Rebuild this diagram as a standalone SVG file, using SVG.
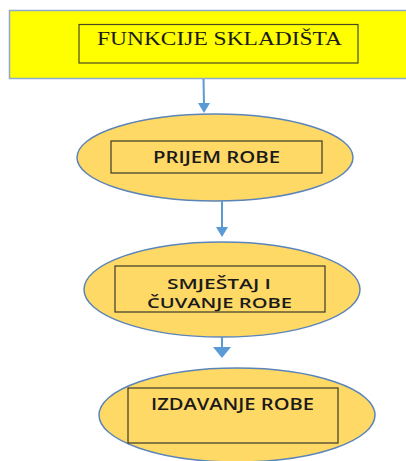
<svg xmlns="http://www.w3.org/2000/svg" width="406" height="461" viewBox="0 0 406 461">
<defs>
<style>
.ell{fill:#FFD966;stroke:#5B84B8;stroke-width:1.5}
.box{fill:none;stroke:#3a3a2a;stroke-width:1.2}
.lbl{font-family:"Open Sans","Liberation Sans",sans-serif;font-size:16px;fill:#1a1a1a;font-weight:600}
.conn{stroke:#5B9BD5;stroke-width:2;fill:none}
.head{fill:#5B9BD5}
</style>
</defs>
<rect width="406" height="461" fill="#ffffff"/>
<g id="node-funkcije">
<rect x="9.5" y="10.5" width="400" height="68" fill="#FFFF00" stroke="#8FA9CF" stroke-width="1.5"/>
<rect x="79" y="24.5" width="279" height="38.5" fill="none" stroke="#4a4a20" stroke-width="1.2"/>
<text x="97" y="44.5" font-family="'Liberation Serif','Times New Roman',serif" font-size="18.5" fill="#1a1a1a" textLength="245" lengthAdjust="spacingAndGlyphs">FUNKCIJE SKLADIŠTA</text>
</g>
<g id="node-prijem">
<ellipse class="ell" cx="215" cy="157.5" rx="138" ry="43.5"/>
<rect class="box" x="111" y="141" width="211" height="32"/>
<text class="lbl" x="153" y="162.5" textLength="127" lengthAdjust="spacingAndGlyphs">PRIJEM ROBE</text>
</g>
<g id="node-smjestaj">
<ellipse class="ell" cx="222" cy="289.5" rx="138" ry="47.5"/>
<rect class="box" x="115" y="266" width="210" height="46"/>
<text class="lbl" x="167" y="288.5" font-size="15" style="font-size:15px" textLength="104" lengthAdjust="spacingAndGlyphs">SMJEŠTAJ I</text>
<text class="lbl" x="147" y="307.5" style="font-size:15px" textLength="145" lengthAdjust="spacingAndGlyphs">ČUVANJE ROBE</text>
</g>
<g id="node-izdavanje">
<ellipse class="ell" cx="237" cy="415" rx="138" ry="47"/>
<rect class="box" x="128" y="388" width="210" height="55"/>
<text class="lbl" x="151" y="409.5" textLength="163" lengthAdjust="spacingAndGlyphs">IZDAVANJE ROBE</text>
</g>
<g id="connectors">
<line class="conn" x1="203.5" y1="79" x2="204" y2="104"/>
<polygon class="head" points="198,103 210,103 204,113"/>
<line class="conn" x1="222" y1="201" x2="222" y2="228"/>
<polygon class="head" points="216,227 228,227 222,237"/>
<line class="conn" x1="222" y1="337" x2="222" y2="348"/>
<polygon class="head" points="213,347 231,347 222,358"/>
</g>
</svg>
